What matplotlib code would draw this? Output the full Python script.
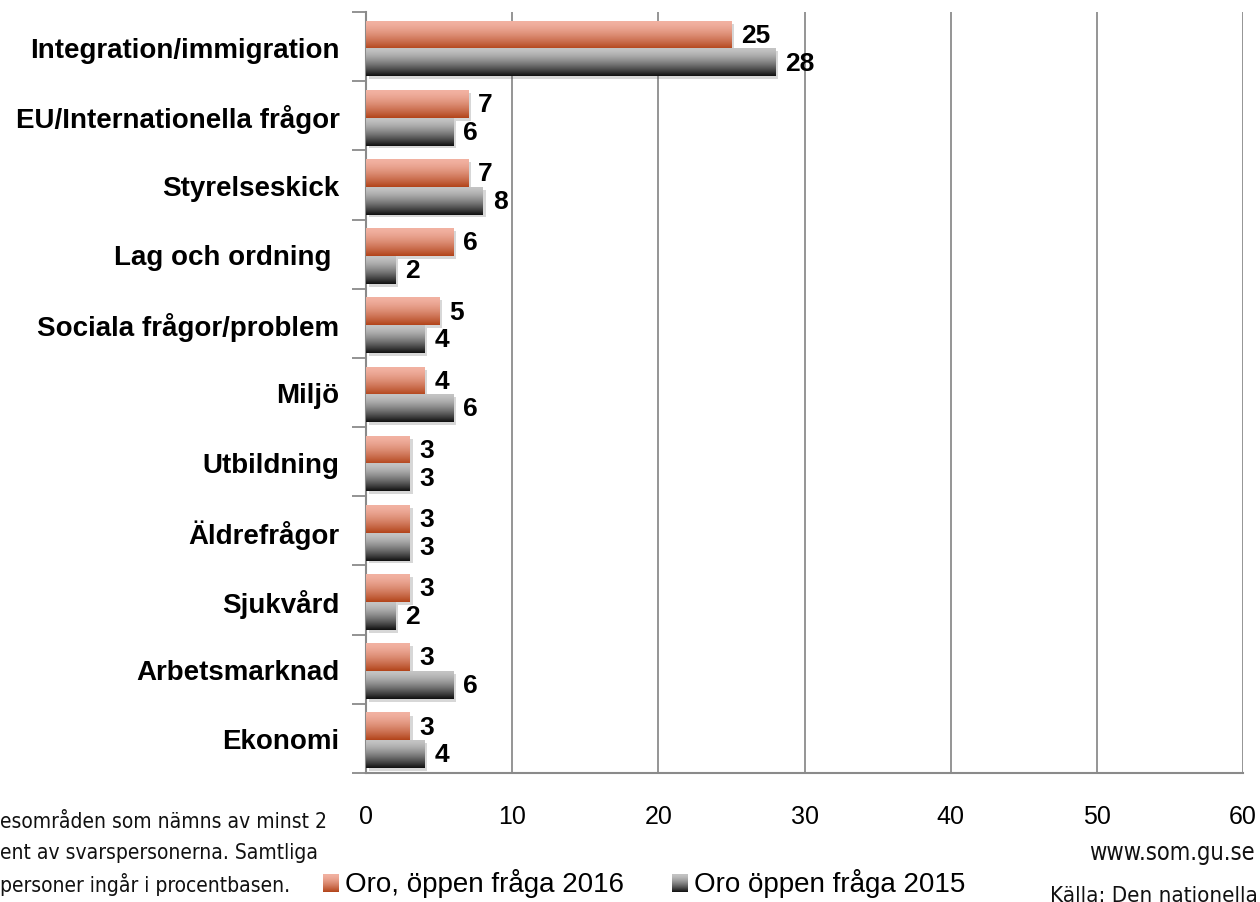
import numpy as np
import matplotlib
matplotlib.use("Agg")
import matplotlib.pyplot as plt
import matplotlib.patheffects as pe

categories = ["Integration/immigration", "EU/Internationella frågor", "Styrelseskick",
              "Lag och ordning ", "Sociala frågor/problem", "Miljö", "Utbildning",
              "Äldrefrågor", "Sjukvård", "Arbetsmarknad", "Ekonomi"]
oro_2016 = [25, 7, 7, 6, 5, 4, 3, 3, 3, 3, 3]
oro_2015 = [28, 6, 8, 2, 4, 6, 3, 3, 2, 6, 4]
series_names = ["Oro, öppen fråga 2016", "Oro öppen fråga 2015"]
x_ticks = [0, 10, 20, 30, 40, 50, 60]

REG = ["Liberation Sans", "DejaVu Sans"]

orange_top, orange_bot = np.array([0xF2, 0xB2, 0xA2]) / 255, np.array([0xB2, 0x44, 0x1A]) / 255
gray_top, gray_bot = np.array([0xC4, 0xC4, 0xC4]) / 255, np.array([0x10, 0x10, 0x10]) / 255


def gradient(top, bot, n=64):
    t = np.linspace(0, 1, n) ** 1.5
    arr = top[None, :] * (1 - t[:, None]) + bot[None, :] * t[:, None]
    return arr[:, None, :]


fig = plt.figure(figsize=(12.6, 9.03), dpi=100)
ax = fig.add_axes([366 / 1260, 1 - 774 / 903, (1243 - 366) / 1260, (774 - 13) / 903])

y = np.arange(len(categories))
h = 0.40
shift = 0.03
shadow = [pe.SimplePatchShadow(offset=(2, -2), alpha=0.22), pe.Normal()]
bars16 = ax.barh(y - h / 2 + shift, oro_2016, height=h, color="white", zorder=2,
                 path_effects=shadow)
bars15 = ax.barh(y + h / 2 + shift, oro_2015, height=h, color="white", zorder=2,
                 path_effects=shadow)

g_or = gradient(orange_top, orange_bot)
g_gr = gradient(gray_top, gray_bot)
for bars, g in ((bars16, g_or), (bars15, g_gr)):
    for p in bars:
        x0, y0, w, hh = p.get_x(), p.get_y(), p.get_width(), p.get_height()
        ax.imshow(g, extent=(x0, x0 + w, y0 + hh, y0), origin="upper",
                  aspect="auto", zorder=3, interpolation="bilinear")

for bars, vals in ((bars16, oro_2016), (bars15, oro_2015)):
    for p, v in zip(bars, vals):
        ax.annotate(str(v), xy=(p.get_width(), p.get_y() + p.get_height() / 2),
                    xytext=(7, 0), textcoords="offset points", va="center", ha="left",
                    fontsize=19, fontweight="bold", family=REG, color="black", zorder=5)

ax.set_xlim(0, 60)
ax.set_ylim(len(categories) - 0.5, -0.5)
ax.set_xticks(x_ticks)
ax.set_xticklabels([str(t) for t in x_ticks], family=REG, fontsize=18)
ax.tick_params(axis="x", length=0, pad=22)
ax.set_yticks(y)
ax.set_yticklabels(categories, family=REG, fontsize=20, fontweight="bold")
ax.tick_params(axis="y", which="major", length=0, pad=19)
ax.set_yticks(np.arange(len(categories) + 1) - 0.5, minor=True)
ax.tick_params(axis="y", which="minor", length=10, width=1.3, color="#8a8a8a", direction="out")

ax.grid(axis="x", color="#8c8c8c", linewidth=1.3, zorder=0)
ax.set_axisbelow(True)
for s in ("top", "right"):
    ax.spines[s].set_visible(False)
for s in ("left", "bottom"):
    ax.spines[s].set_color("#8a8a8a")
    ax.spines[s].set_linewidth(1.5)


# Legend (manual, gradient markers)
def marker(x0, x1, y0, y1, g):
    mx = fig.add_axes([x0 / 1260, 1 - y1 / 903, (x1 - x0) / 1260, (y1 - y0) / 903])
    mx.imshow(g, aspect="auto", interpolation="bilinear")
    mx.axis("off")


marker(323, 339, 875, 893, g_or)
fig.text(345 / 1260, 1 - 884 / 903, series_names[0], family=REG, fontsize=20,
         va="center", ha="left")
marker(672, 688, 875, 893, g_gr)
fig.text(694 / 1260, 1 - 884 / 903, series_names[1], family=REG, fontsize=20,
         va="center", ha="left")

# Footnote (cropped at left edge in original)
foot_lines = ["esområden som nämns av minst 2", "ent av svarspersonerna. Samtliga",
              "personer ingår i procentbasen."]
for i, line in enumerate(foot_lines):
    fig.text(0 / 1260, 1 - (822 + 31.5 * i) / 903, line, family=["DejaVu Sans"],
             fontstretch="condensed", fontsize=15, va="center", ha="left", color="#111111")

fig.text(1255 / 1260, 1 - 853 / 903, "www.som.gu.se", family=["DejaVu Sans"],
         fontstretch="condensed", fontsize=17, va="center", ha="right", color="#111111")
fig.text(1050 / 1260, 1 - 896 / 903, "Källa: Den nationella SOM-undersökningen 2016",
         family=["DejaVu Sans"], fontstretch="condensed", fontsize=16, va="center",
         ha="left", color="#111111")

fig.savefig("out.png", dpi=100)
